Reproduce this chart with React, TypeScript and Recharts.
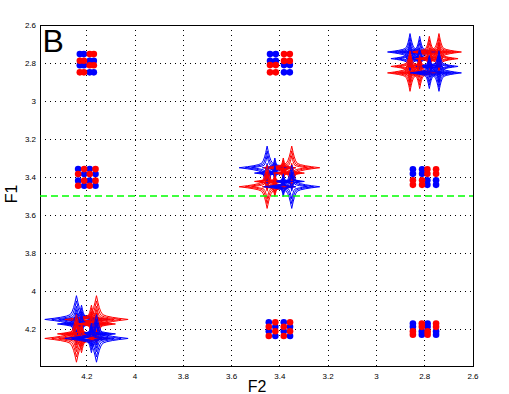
import React from "react";
import {
  ComposedChart,
  Line,
  Scatter,
  XAxis,
  YAxis,
  CartesianGrid,
  ReferenceLine,
  ReferenceArea,
} from "recharts";

const W = 509;
const H = 394;
const RED = "#ff0000";
const BLUE = "#0000ff";
const FONT = '"Liberation Sans", Arial, Helvetica, sans-serif';

// both axes in ppm, both reversed (NMR style)
const xTicks = [2.6, 2.8, 3, 3.2, 3.4, 3.6, 3.8, 4, 4.2];
const yTicks = [2.6, 2.8, 3, 3.2, 3.4, 3.6, 3.8, 4, 4.2];
const ppmMin = 2.6;
const ppmMax = 4.394;
const cutF1 = 3.5;

// diagonal multiplets: F2 columns, F1 rows (top to bottom), relative heights, arm reach [F2, F1]
const diagSigns = ["BBRR", "BBRR", "RRBB", "RRBB"];

const diag28Cols = [2.861, 2.821, 2.781, 2.741];
const diag28Rows = [2.742, 2.777, 2.818, 2.852];
const diag28Heights = [
  [1, 0.85, 0.85, 1],
  [0.85, 0.6, 0.6, 0.85],
  [0.85, 0.6, 0.6, 0.85],
  [1, 0.85, 0.85, 1],
];
const diag28Reach = [0.093, 0.097];

const diag34Cols = [3.453, 3.421, 3.386, 3.351];
const diag34Rows = [3.351, 3.379, 3.423, 3.451];
const diag34Heights = [
  [1, 0.45, 0.45, 1],
  [0.45, 0.35, 0.35, 0.45],
  [0.45, 0.35, 0.35, 0.45],
  [1, 0.45, 0.45, 1],
];
const diag34Reach = [0.116, 0.114];

const diag42Cols = [4.243, 4.222, 4.181, 4.16];
const diag42Rows = [4.149, 4.173, 4.225, 4.249];
const diag42Heights = [
  [1, 0.6, 0.6, 1],
  [0.6, 0.45, 0.45, 0.6],
  [0.6, 0.45, 0.45, 0.6],
  [1, 0.6, 0.6, 1],
];
const diag42Reach = [0.131, 0.125];

// contour levels relative to the outer one, and the outline of one quadrant
const contourLevels = [1, 0.78, 0.56];
const starQuarter = [
  [1, 0],
  [0.7, 0.05],
  [0.5, 0.09],
  [0.32, 0.14],
  [0.2, 0.2],
  [0.14, 0.32],
  [0.09, 0.5],
  [0.05, 0.7],
  [0, 1],
];

// cross peaks (small anti-phase blobs)
const cross42_28X = [4.229, 4.212, 4.188, 4.171];
const cross42_28Y = [2.753, 2.788, 2.812, 2.849];
const cross42_28Signs = ["BBRR", "RRBB", "BBRR", "RRBB"];

const cross34_28X = [3.441, 3.417, 3.383, 3.359];
const cross34_28Y = [2.753, 2.789, 2.811, 2.849];
const cross34_28Signs = ["BBRR", "BBRR", "RRBB", "RRBB"];

const cross42_34X = [4.236, 4.211, 4.188, 4.164];
const cross42_34Y = [3.358, 3.384, 3.419, 3.446];
const cross42_34Signs = ["BRBR", "RBRB", "BRBR", "RBRB"];

const cross34_42X = [3.446, 3.419, 3.384, 3.358];
const cross34_42Y = [4.164, 4.188, 4.211, 4.236];
const cross34_42Signs = ["BRBR", "RBRB", "BRBR", "RBRB"];

const cross28_34X = [2.849, 2.811, 2.789, 2.753];
const cross28_34Y = [3.359, 3.383, 3.417, 3.441];
const cross28_34Signs = ["BBRR", "BBRR", "RRBB", "RRBB"];

const cross28_42X = [2.849, 2.812, 2.788, 2.753];
const cross28_42Y = [4.171, 4.188, 4.212, 4.229];
const cross28_42Signs = ["BRBR", "BRBR", "RBRB", "RBRB"];

type Pt = { x: number; y: number };

function buildStar(cx: number, cy: number, rx: number, ry: number): Pt[] {
  const rev = [...starQuarter].reverse();
  const pts: Pt[] = [];
  starQuarter.forEach(([a, b]) => pts.push({ x: cx + a * rx, y: cy - b * ry }));
  rev.forEach(([a, b]) => pts.push({ x: cx - a * rx, y: cy - b * ry }));
  starQuarter.forEach(([a, b]) => pts.push({ x: cx - a * rx, y: cy + b * ry }));
  rev.forEach(([a, b]) => pts.push({ x: cx + a * rx, y: cy + b * ry }));
  return pts;
}

const diagGroups = [
  { cols: diag28Cols, rows: diag28Rows, heights: diag28Heights, reach: diag28Reach },
  { cols: diag34Cols, rows: diag34Rows, heights: diag34Heights, reach: diag34Reach },
  { cols: diag42Cols, rows: diag42Rows, heights: diag42Heights, reach: diag42Reach },
];

const contours = diagGroups.flatMap((g, gi) =>
  g.rows.flatMap((f1, r) =>
    g.cols.flatMap((f2, c) =>
      contourLevels.map((lv, li) => ({
        key: `d${gi}-${r}-${c}-${li}`,
        color: diagSigns[r][c] === "B" ? BLUE : RED,
        points: buildStar(
          f2,
          f1,
          g.reach[0] * g.heights[r][c] * lv,
          g.reach[1] * g.heights[r][c] * lv
        ),
      }))
    )
  )
);

const crossGroups = [
  { xs: cross42_28X, ys: cross42_28Y, signs: cross42_28Signs },
  { xs: cross34_28X, ys: cross34_28Y, signs: cross34_28Signs },
  { xs: cross42_34X, ys: cross42_34Y, signs: cross42_34Signs },
  { xs: cross34_42X, ys: cross34_42Y, signs: cross34_42Signs },
  { xs: cross28_34X, ys: cross28_34Y, signs: cross28_34Signs },
  { xs: cross28_42X, ys: cross28_42Y, signs: cross28_42Signs },
];

const bluePts: Pt[] = [];
const redPts: Pt[] = [];
crossGroups.forEach((g) =>
  g.ys.forEach((f1, r) =>
    g.xs.forEach((f2, c) => (g.signs[r][c] === "B" ? bluePts : redPts).push({ x: f2, y: f1 }))
  )
);

const fmt = (v: number) => String(Number(v.toFixed(1)));
const tickStyle = { fontSize: 8, fill: "#000", fontFamily: FONT };

const dot = (color: string) => (p: any) => <circle cx={p.cx} cy={p.cy} r={3.3} fill={color} />;

export default function App() {
  return (
    <div style={{ position: "absolute", left: 0, top: 0, width: W, height: H, background: "#fff" }}>
      <ComposedChart width={W} height={H} margin={{ top: 25, right: 36, bottom: 0, left: 0 }}>
        <CartesianGrid stroke="#000" strokeDasharray="1 4" shapeRendering="crispEdges" />
        <XAxis
          dataKey="x"
          type="number"
          domain={[ppmMin, ppmMax]}
          reversed
          allowDataOverflow
          ticks={xTicks}
          interval={0}
          height={28}
          tickSize={0}
          tickMargin={7}
          axisLine={false}
          tick={tickStyle}
          tickFormatter={fmt}
        />
        <YAxis
          dataKey="y"
          type="number"
          domain={[ppmMin, ppmMax]}
          reversed
          allowDataOverflow
          ticks={yTicks}
          interval={0}
          width={40}
          tickSize={0}
          tickMargin={4}
          axisLine={false}
          tick={tickStyle}
          tickFormatter={fmt}
        />
        {contours.map((c) => (
          <Line
            key={c.key}
            data={c.points}
            dataKey="y"
            stroke={c.color}
            strokeWidth={1}
            dot={false}
            activeDot={false}
            isAnimationActive={false}
          />
        ))}
        <Scatter data={bluePts} shape={dot(BLUE)} isAnimationActive={false} />
        <Scatter data={redPts} shape={dot(RED)} isAnimationActive={false} />
        <ReferenceLine y={cutF1} stroke="#00ff00" strokeWidth={1.5} strokeDasharray="7 4" />
        <ReferenceArea
          x1={ppmMin}
          x2={ppmMax}
          y1={ppmMin}
          y2={ppmMax}
          fill="none"
          stroke="#000"
          strokeWidth={1}
          shapeRendering="crispEdges"
        />
      </ComposedChart>
      <svg
        width={W}
        height={H}
        style={{ position: "absolute", left: 0, top: 0, pointerEvents: "none" }}
        fontFamily={FONT}
      >
        <text x={42.5} y={52} fontSize={32} fill="#000">
          B
        </text>
        <text x={257} y={392} fontSize={16} textAnchor="middle" fill="#000">
          F2
        </text>
        <text transform="translate(17,194) rotate(-90)" fontSize={16} textAnchor="middle" fill="#000">
          F1
        </text>
      </svg>
    </div>
  );
}
